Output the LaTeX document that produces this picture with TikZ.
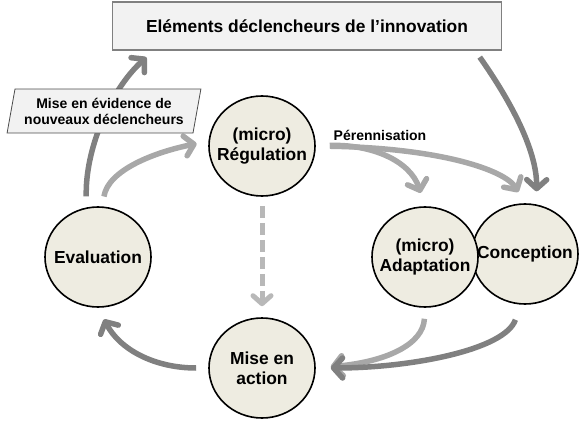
\documentclass[tikz,border=0pt]{standalone}
\usepackage{fontspec}
\setmainfont{Liberation Sans}
\usetikzlibrary{arrows.meta,shapes.geometric}
\definecolor{fondcercle}{HTML}{EEECE1}
\definecolor{fondboite}{HTML}{F2F2F2}
\definecolor{flechefonce}{HTML}{808080}
\definecolor{flecheclair}{HTML}{A8A8A8}
\definecolor{flechetiret}{HTML}{B8B8B8}
\begin{document}
\begin{tikzpicture}[x=1pt, y=-1pt, font=\bfseries,
	etape/.style={ellipse, draw=black, line width=1.6pt, fill=fondcercle, minimum width=106pt, minimum height=100pt, inner sep=0pt},
	texte/.style={align=center, inner sep=0pt, font=\fontsize{17.4}{20}\selectfont\bfseries},
	fonce/.style={draw=flechefonce, line width=5.5pt, -{Straight Barb[length=9pt,width=20pt,round]}},
	clair/.style={draw=flecheclair, line width=5.5pt, -{Straight Barb[length=9pt,width=20pt,round]}}]
	\useasboundingbox (0,0) rectangle (580,420);
	% boite du haut
	\node[draw=flechefonce, line width=1.2pt, fill=fondboite, minimum width=389pt, minimum height=48pt, font=\fontsize{17.4}{20}\selectfont\bfseries] (declench) at (307,26) {Eléments déclencheurs de l’innovation};
	% les cercles
	\node[etape, label={[texte]center:{(micro)\\Régulation}}] (reg) at (262,146) {};
	\node[etape, label={[texte]center:Evaluation}] (eval) at (98,257) {};
	\node[etape, label={[texte]center:{Mise en\\action}}] (action) at (262,368) {};
	\node[etape, label={[texte]center:Conception}] (concep) at (525,254) {};
	\node[etape, label={[texte]center:{(micro)\\Adaptation}}] (adapt) at (425,257) {};
	% fleches
	\draw[fonce, shorten <=11pt, shorten >=10pt] (eval.103) .. controls (85,150) and (110,90) .. ([xshift=42pt]declench.south west);
	\draw[clair, shorten <=10pt, shorten >=12pt] (eval.85) .. controls (108,170) and (155,152) .. (reg.175);
	\draw[draw=flechetiret, line width=5pt, dash pattern=on 12pt off 5pt, -{Straight Barb[length=8pt,width=18pt,round]}, shorten <=9pt, shorten >=11pt] (reg.south) -- (action.north);
	\draw[clair, shorten <=14pt, shorten >=14pt] (reg.east) .. controls (370,144) and (410,160) .. (adapt.north);
	\draw[clair, shorten <=14pt, shorten >=13pt] (reg.east) .. controls (440,148) and (505,170) .. (concep.north);
	\node[font=\fontsize{14}{16}\selectfont\bfseries] (peren) at (380,135) {Pérennisation};
	\draw[fonce, shorten <=8pt, shorten >=13pt] ([xshift=-27pt]declench.south east) .. controls (510,100) and (537,150) .. (concep.77);
	\draw[clair, shorten <=11pt, shorten >=15pt] (adapt.south) .. controls (423,345) and (385,362) .. (action.east);
	\draw[fonce, shorten <=16pt, shorten >=15pt] (concep.265) .. controls (505,350) and (410,368) .. (action.east);
	\draw[fonce, shorten <=12pt, shorten >=13pt] (action.west) .. controls (155,368) and (120,350) .. (eval.south);
	% parallelogramme
	\node[trapezium, trapezium left angle=75, trapezium right angle=105, trapezium stretches=true, draw=black!70, line width=0.8pt, fill=fondboite, minimum width=194pt, minimum height=44pt, inner sep=0pt, align=center, font=\fontsize{14}{16}\selectfont\bfseries] (nouveaux) at (104,111) {Mise en évidence de\\nouveaux déclencheurs};
\end{tikzpicture}
\end{document}
